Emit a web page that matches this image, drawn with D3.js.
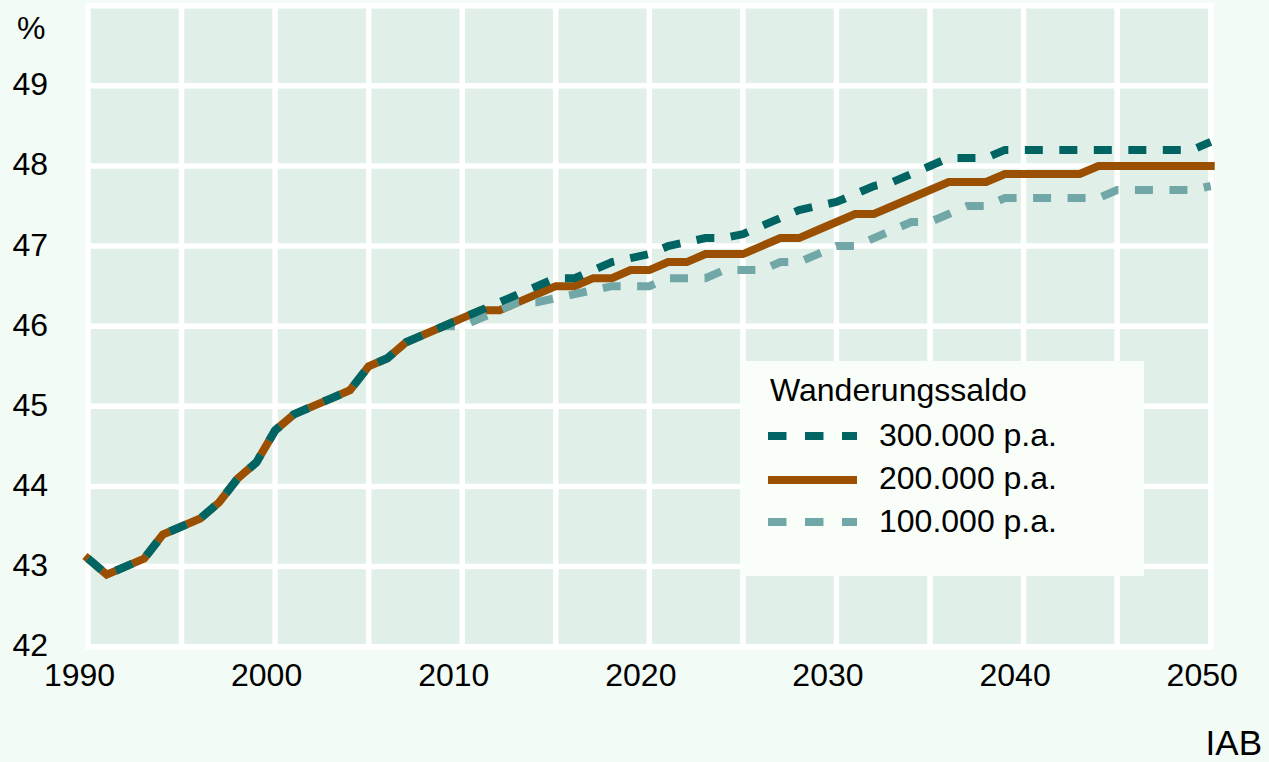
<!DOCTYPE html>
<html>
<head>
<meta charset="utf-8">
<script src="https://cdn.jsdelivr.net/npm/d3@7"></script>
<style>
  html, body { margin: 0; padding: 0; background: #f2fbf6; }
  svg { display: block; font-family: "Liberation Sans", Arial, sans-serif; }
</style>
</head>
<body>
<svg id="chart" width="1269" height="762"></svg>
<script>
// ---- data ----
const years = [1990,1991,1992,1993,1994,1995,1996,1997,1998,1999,
  2000,2001,2002,2003,2004,2005,2006,2007,2008,2009,
  2010,2011,2012,2013,2014,2015,2016,2017,2018,2019,
  2020,2021,2022,2023,2024,2025,2026,2027,2028,2029,
  2030,2031,2032,2033,2034,2035,2036,2037,2038,2039,
  2040,2041,2042,2043,2044,2045,2046,2047,2048,2049,2050];

const saldo300 = [43.1,42.9,43.0,43.1,43.4,43.5,43.6,43.8,44.1,44.3,
  44.7,44.9,45.0,45.1,45.2,45.5,45.6,45.8,45.9,46.0,
  46.1,46.2,46.3,46.4,46.5,46.6,46.6,46.7,46.8,46.85,
  46.9,47.0,47.05,47.1,47.1,47.15,47.25,47.35,47.45,47.5,
  47.55,47.65,47.75,47.8,47.9,48.0,48.1,48.1,48.1,48.2,
  48.2,48.2,48.2,48.2,48.2,48.2,48.2,48.2,48.2,48.2,48.3];

const saldo200 = [43.1,42.9,43.0,43.1,43.4,43.5,43.6,43.8,44.1,44.3,
  44.7,44.9,45.0,45.1,45.2,45.5,45.6,45.8,45.9,46.0,
  46.1,46.2,46.2,46.3,46.4,46.5,46.5,46.6,46.6,46.7,
  46.7,46.8,46.8,46.9,46.9,46.9,47.0,47.1,47.1,47.2,
  47.3,47.4,47.4,47.5,47.6,47.7,47.8,47.8,47.8,47.9,
  47.9,47.9,47.9,47.9,48.0,48.0,48.0,48.0,48.0,48.0,48.0];

const saldo100 = [43.1,42.9,43.0,43.1,43.4,43.5,43.6,43.8,44.1,44.3,
  44.7,44.9,45.0,45.1,45.2,45.5,45.6,45.8,45.9,46.0,
  46.0,46.1,46.2,46.3,46.3,46.35,46.4,46.45,46.5,46.5,
  46.5,46.6,46.6,46.6,46.7,46.7,46.7,46.8,46.8,46.9,
  47.0,47.0,47.1,47.2,47.3,47.3,47.4,47.5,47.5,47.6,
  47.6,47.6,47.6,47.6,47.6,47.7,47.7,47.7,47.7,47.7,47.75];

const xTicks = [1990, 1995, 2000, 2005, 2010, 2015, 2020, 2025, 2030, 2035, 2040, 2045, 2050];
const xTickLabels = [1990, 2000, 2010, 2020, 2030, 2040, 2050];
const yTicks = [42, 43, 44, 45, 46, 47, 48, 49, 50];
const yTickLabels = [42, 43, 44, 45, 46, 47, 48, 49];

const legendTitle = "Wanderungssaldo";
const seriesNames = ["300.000 p.a.", "200.000 p.a.", "100.000 p.a."];

// ---- layout ----
const svg = d3.select("#chart");
const W = 1269, H = 762;
svg.append("rect").attr("width", W).attr("height", H).attr("fill", "#f2fbf6");

const x = d3.scaleLinear().domain([1990, 2050]).range([88, 1210.7]);
const y = d3.scaleLinear().domain([42, 50]).range([646.7, 5.7]);

// plot background
svg.append("rect")
  .attr("x", x(1990)).attr("y", y(50))
  .attr("width", x(2050) - x(1990)).attr("height", y(42) - y(50))
  .attr("fill", "#e0efe8");

// grid lines
const grid = svg.append("g").attr("stroke", "#ffffff").attr("stroke-width", 5.5);
grid.selectAll("line.v").data(xTicks).join("line")
  .attr("x1", d => x(d)).attr("x2", d => x(d))
  .attr("y1", y(50) - 2.75).attr("y2", y(42) + 2.75);
grid.selectAll("line.h").data(yTicks).join("line")
  .attr("y1", d => y(d)).attr("y2", d => y(d))
  .attr("x1", x(1990) - 2.75).attr("x2", x(2050) + 2.75);

// tick labels
const fontSize = 32;
svg.append("g").selectAll("text").data(yTickLabels).join("text")
  .attr("x", 48).attr("y", d => y(d) + 9.5)
  .attr("text-anchor", "end").attr("font-size", fontSize).attr("fill", "#000")
  .text(d => d);
svg.append("text").attr("x", 17).attr("y", 39).attr("font-size", fontSize).text("%");

svg.append("g").selectAll("text").data(xTickLabels).join("text")
  .attr("x", d => x(d) - 8.5).attr("y", 686)
  .attr("text-anchor", "middle").attr("font-size", fontSize).attr("fill", "#000")
  .text(d => d);

svg.append("text").attr("x", 1262).attr("y", 755).attr("text-anchor", "end")
  .attr("font-size", 35).text("IAB");

// ---- lines ----
const series = [
  { name: seriesNames[1], values: saldo200, color: "#9a5000", dash: null, cap: "square" },
  { name: seriesNames[2], values: saldo100, color: "#72a7a7", dash: "18,16.5", cap: "butt" },
  { name: seriesNames[0], values: saldo300, color: "#006463", dash: "18,16.5", cap: "butt" }
];

const line = d3.line().x(d => x(d[0])).y(d => y(d[1]));

series.forEach(s => {
  const pts = years.map((yr, i) => [yr, s.values[i]]);
  svg.append("path")
    .attr("d", line(pts))
    .attr("fill", "none")
    .attr("stroke", s.color)
    .attr("stroke-width", 8)
    .attr("stroke-linecap", s.cap)
    .attr("stroke-linejoin", "miter")
    .attr("stroke-dasharray", s.dash);
});

// ---- legend ----
const lg = svg.append("g");
lg.append("rect").attr("x", 741).attr("y", 361).attr("width", 403).attr("height", 215)
  .attr("fill", "#f9fef9");
lg.append("text").attr("x", 770).attr("y", 401).attr("font-size", fontSize).text(legendTitle);

const legendItems = [
  { name: seriesNames[0], color: "#006463", dash: "18.5,18.5", ly: 436, ty: 446 },
  { name: seriesNames[1], color: "#9a5000", dash: null, ly: 480, ty: 489 },
  { name: seriesNames[2], color: "#72a7a7", dash: "18.5,18.5", ly: 522, ty: 532 }
];
legendItems.forEach(it => {
  lg.append("line").attr("x1", 768).attr("x2", 857).attr("y1", it.ly).attr("y2", it.ly)
    .attr("stroke", it.color).attr("stroke-width", 8)
    .attr("stroke-dasharray", it.dash);
  lg.append("text").attr("x", 879).attr("y", it.ty).attr("font-size", fontSize).text(it.name);
});
</script>
</body>
</html>
